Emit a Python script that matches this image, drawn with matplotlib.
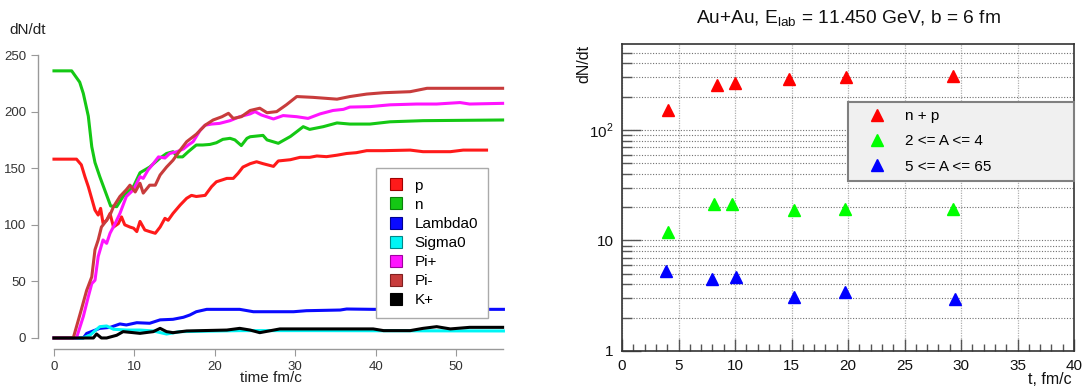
import numpy as np
import matplotlib
matplotlib.use("Agg")
import matplotlib.pyplot as plt
from matplotlib.lines import Line2D
from matplotlib.ticker import MultipleLocator, FixedLocator, FixedFormatter, NullFormatter

plt.rcParams['font.family'] = ['Liberation Sans', 'DejaVu Sans']
plt.rcParams['mathtext.fontset'] = 'custom'
plt.rcParams['mathtext.rm'] = 'Liberation Sans'

# ---- left panel: dN/dt vs time per species ----
t_p = [0, 2.2, 2.8, 3.4, 3.85, 4.27, 4.7, 5.1, 5.5, 5.8, 6.1, 6.55, 6.97, 7.4, 8.0, 8.4, 8.8,
       9.45, 9.9, 10.3, 10.7, 11.3, 11.9, 12.6, 13.2, 13.8, 14.2, 14.8, 15.7, 16.5, 17.1, 17.7,
       18.8, 19.6, 20.2, 20.9, 21.5, 22.3, 22.9, 23.5, 24.4, 25.2, 26.0, 27.3, 27.9, 29.4, 30.6,
       31.8, 32.7, 33.9, 35.2, 36.4, 37.6, 38.9, 41.0, 44.3, 45.9, 49.3, 50.9, 53.8]
v_p = [158, 158, 158, 153, 142.5, 133.7, 123, 113, 108.6, 114.5, 101.5, 104, 110, 98, 101, 107, 100,
       98, 97, 94, 103, 95.4, 94, 92.5, 98, 105.7, 104, 110, 117.5, 123.4, 126, 125,
       126, 133.7, 138, 139.6, 141, 141, 145.5, 151, 154, 155.7, 154, 151.6, 156.4, 157.5, 159.6,
       159.6, 160.8, 160.2, 161.5, 163, 163.7, 165.5, 165.5, 166, 164.6, 164.6, 166, 166]

t_n = [0, 2.2, 3.2, 3.65, 4.27, 4.7, 5.1, 5.7, 6.3, 7.05, 7.8, 8.6, 9.9, 10.7, 11.9, 13.2, 14.0,
       14.8, 15.4, 16.0, 16.7, 17.7, 18.5, 19.4, 20.2, 21.0, 21.9, 22.5, 23.3, 24.0, 24.4, 25.2,
       26.0, 26.5, 27.9, 29.4, 30.2, 31.0, 31.8, 33.5, 35.2, 36.8, 39.3, 41.8, 45.9, 55.8]
v_n = [236, 236, 226, 216, 196, 169, 155, 142.5, 131, 116.6, 116, 125, 134, 146, 151, 159, 163,
       164.6, 160, 160, 164.6, 170.5, 170.5, 171, 172.5, 175.5, 176.4, 175, 170, 176.4, 177.8, 178.4,
       179, 175, 172, 178, 182.3, 186.7, 184.3, 186.7, 190, 189, 189, 191, 192, 192.6]

t_lam = [0, 3.65, 4.06, 5.7, 7.0, 8.2, 9.0, 10.3, 11.9, 13.2, 14.8, 16.1, 16.9, 17.7, 19.0, 23.1,
         24.8, 29.8, 31.4, 35.6, 36.4, 39.7, 55.9]
v_lam = [0, 0, 4, 8.5, 9.4, 12.4, 11.5, 13.5, 13, 16, 16.5, 18.3, 20.3, 23.2, 25.3, 25.3,
         23.2, 23.2, 24.1, 24.7, 25.6, 25.3, 25.3]

t_sig = [0, 3.6, 4.5, 5.7, 6.55, 7.4, 9.0, 10.7, 12.35, 14.0, 15.7, 23.1, 31.4, 55.9]
v_sig = [0, 0, 2.6, 10, 10.6, 7.7, 7, 7, 6.2, 3.5, 5.6, 6.5, 6.5, 6.2]

t_pip = [0, 2.8, 3.65, 4.27, 4.7, 5.1, 5.5, 6.1, 6.55, 6.97, 7.6, 8.2, 9.0, 9.9, 10.7, 11.1, 11.7,
         12.35, 13.0, 13.8, 14.4, 15.3, 16.1, 16.7, 17.3, 18.2, 18.8, 19.6, 20.6, 21.9, 23.1, 24.4,
         25.0, 25.8, 27.3, 28.5, 30.2, 31.6, 33.1, 34.7, 36.0, 36.8, 39.3, 41.8, 45.1, 47.6, 50.5,
         51.7, 55.8]
v_pip = [0, 0, 19, 36.5, 48, 51, 72, 86.6, 83.6, 92.5, 101, 110, 125, 131, 142.5, 141, 148.4,
         154, 160, 159, 163, 164.6, 167, 170.5, 173.4, 183.7, 188, 189, 189.6, 192, 195.5, 198,
         200, 197, 193.5, 196.5, 195.5, 194, 198, 201, 202, 204, 204.4, 206, 206.7, 206.7, 208,
         206.7, 207.3]

t_pim = [0, 2.4, 3.4, 4.06, 4.7, 5.1, 5.5, 5.9, 6.55, 6.97, 7.4, 8.2, 9.0, 9.45, 10.1, 10.7, 11.1,
         11.9, 12.6, 13.2, 14.0, 14.8, 15.7, 16.5, 17.7, 18.8, 19.8, 20.9, 21.7, 22.3, 23.3, 24.4,
         25.6, 26.5, 27.7, 28.9, 30.2, 32.2, 35.2, 36.8, 38.9, 41.0, 44.3, 46.4, 55.8]
v_pim = [0, 0, 25, 42, 54, 78, 86.6, 98, 104, 108.6, 116, 125, 131, 135, 129, 136.7, 128,
         135, 135, 144, 151, 157, 166, 173.4, 180, 188, 192.6, 195.5, 198.5, 194, 195.5, 201,
         203, 199, 200, 206, 213.3, 212.6, 211, 213.3, 215.5, 216.7, 217.6, 220.6, 220.6]

t_kp = [0, 4.9, 5.3, 5.9, 6.55, 7.8, 8.6, 10.7, 12.35, 13.2, 14.0, 14.8, 16.5, 21.5, 23.1, 24.4,
        25.6, 28.1, 39.7, 41.0, 44.3, 45.9, 47.6, 49.3, 51.7, 55.8]
v_kp = [0, 0, 3.5, 0, 0, 2.4, 5.6, 4.1, 5.6, 8.5, 5.6, 4.7, 6.2, 7, 8.5, 7,
        4.7, 8, 8, 6.5, 6.5, 8.5, 10, 8, 9.4, 9.4]

species = ['p', 'n', 'Lambda0', 'Sigma0', 'Pi+', 'Pi-', 'K+']
colors = ['#ff1a1a', '#14c814', '#0a0aff', '#00f5f5', '#ff14ff', '#c83c3c', '#000000']
edges = ['#a00000', '#0a800a', '#000090', '#008888', '#a000a0', '#802020', '#000000']
series = [(t_p, v_p), (t_n, v_n), (t_lam, v_lam), (t_sig, v_sig),
          (t_pip, v_pip), (t_pim, v_pim), (t_kp, v_kp)]

# ---- right panel: fragment yields ----
t_np = [4.04, 8.38, 10.0, 14.75, 19.8, 29.3]
y_np = [151, 254, 264, 292, 300, 308]
t_a24 = [4.10, 8.17, 9.73, 15.25, 19.73, 29.3]
y_a24 = [12.0, 21.5, 21.4, 19.0, 19.3, 19.3]
t_a565 = [3.89, 7.94, 10.12, 15.25, 19.73, 29.44]
y_a565 = [5.26, 4.48, 4.71, 3.05, 3.44, 2.95]
frag_labels = ['n + p', '2 <= A <= 4', '5 <= A <= 65']
frag_colors = ['#ff0000', '#00ff00', '#0000ff']

W, H = 1085, 388
fig = plt.figure(figsize=(W / 100, H / 100), dpi=100)

# left axes placed in pixel terms
ax = fig.add_axes([37.9 / W, 1 - 349.3 / H, 482.4 / W, 305.6 / H])
for (tt, vv), c in zip(series, colors):
    ax.plot(tt, vv, color=c, lw=2.2, solid_joinstyle='round')
ax.set_xlim(-2, 58)
ax.set_ylim(-10, 260)
for s in ['top', 'right']:
    ax.spines[s].set_visible(False)
ax.spines['left'].set_bounds(0, 250)
ax.spines['bottom'].set_bounds(0, 55.8)
for s in ['left', 'bottom']:
    ax.spines[s].set_color('#999999')
    ax.spines[s].set_linewidth(1.0)
ax.set_xticks([0, 10, 20, 30, 40, 50])
ax.set_yticks([0, 50, 100, 150, 200, 250])
ax.tick_params(direction='out', length=5, color='#999999', labelcolor='#333333', labelsize=9.5)
fig.text(9 / W, 1 - 30 / H, 'dN/dt', fontsize=11, color='#222222', va='center', ha='left')
fig.text(271 / W, 1 - 378 / H, 'time fm/c', fontsize=11, color='#222222', va='center', ha='center')

handles = [Line2D([], [], marker='s', linestyle='none', markersize=9,
                  markerfacecolor=c, markeredgecolor=e, markeredgewidth=0.8)
           for c, e in zip(colors, edges)]
leg = ax.legend(handles, species, loc='upper left', bbox_to_anchor=(0.701, 0.593),
                borderaxespad=0, fontsize=11, frameon=True, fancybox=False,
                framealpha=1, edgecolor='#aaaaaa', handlelength=1.2, handletextpad=0.6,
                labelspacing=0.33, borderpad=0.7)
leg.get_frame().set_linewidth(1.0)

# right axes
ax2 = fig.add_axes([622 / W, 1 - 351 / H, 452 / W, 307 / H])
ax2.set_yscale('log')
ax2.set_xlim(0, 40)
ax2.set_ylim(1, 600)
ax2.xaxis.set_major_locator(MultipleLocator(5))
ax2.xaxis.set_minor_locator(MultipleLocator(1))
ax2.yaxis.set_major_locator(FixedLocator([1, 10, 100]))
ax2.yaxis.set_major_formatter(FixedFormatter(['1', '10', r'$10^2$']))
minor_y = [m * 10 ** e for e in range(0, 3) for m in range(2, 10) if m * 10 ** e < 600]
ax2.yaxis.set_minor_locator(FixedLocator(minor_y))
ax2.yaxis.set_minor_formatter(NullFormatter())
ax2.grid(True, which='major', axis='x', color='#b0b0b0', linestyle=(0, (1, 1)), lw=0.9)
ax2.grid(True, which='both', axis='y', color='#707070', linestyle=(0, (1, 1.5)), lw=0.8)
ax2.set_axisbelow(True)
ax2.tick_params(which='major', axis='x', direction='in', length=9, width=1, color='#555555')
ax2.tick_params(which='minor', axis='x', direction='in', length=5, width=1, color='#555555')
ax2.tick_params(which='major', axis='y', direction='in', length=14, width=1, color='#555555')
ax2.tick_params(which='minor', axis='y', direction='in', length=7, width=1, color='#555555')
ax2.tick_params(which='both', labelsize=11, labelcolor='#111111', pad=6)
for s in ax2.spines.values():
    s.set_color('#333333')
    s.set_linewidth(1.2)

for tt, yy, c, lab in zip([t_np, t_a24, t_a565], [y_np, y_a24, y_a565], frag_colors, frag_labels):
    ax2.plot(tt, yy, linestyle='none', marker='^', markersize=9, color=c,
             markeredgecolor=c, label=lab, zorder=3)

leg2 = ax2.legend(loc='upper left', bbox_to_anchor=(0.5, 0.561, 0.5, 0.25), mode='expand',
                  borderaxespad=0, fontsize=11, frameon=True, fancybox=False, framealpha=1,
                  facecolor='#f0f0f0', edgecolor='#808080', handlelength=2.9,
                  handletextpad=0.4, labelspacing=0.75, borderpad=0.45)
leg2.get_frame().set_linewidth(1.5)

fig.text(848 / W, 1 - 19 / H, r'Au+Au, E$_{\rm lab}$ = 11.450 GeV, b = 6 fm',
         fontsize=13.8, ha='center', va='center', color='#111111')
fig.text(584 / W, 1 - 45 / H, 'dN/dt', fontsize=11.5, rotation=90, ha='center', va='top',
         color='#111111')
fig.text(1072 / W, 1 - 379 / H, 't, fm/c', fontsize=11.5, ha='right', va='center',
         color='#111111')

fig.savefig('out.png', dpi=100)
